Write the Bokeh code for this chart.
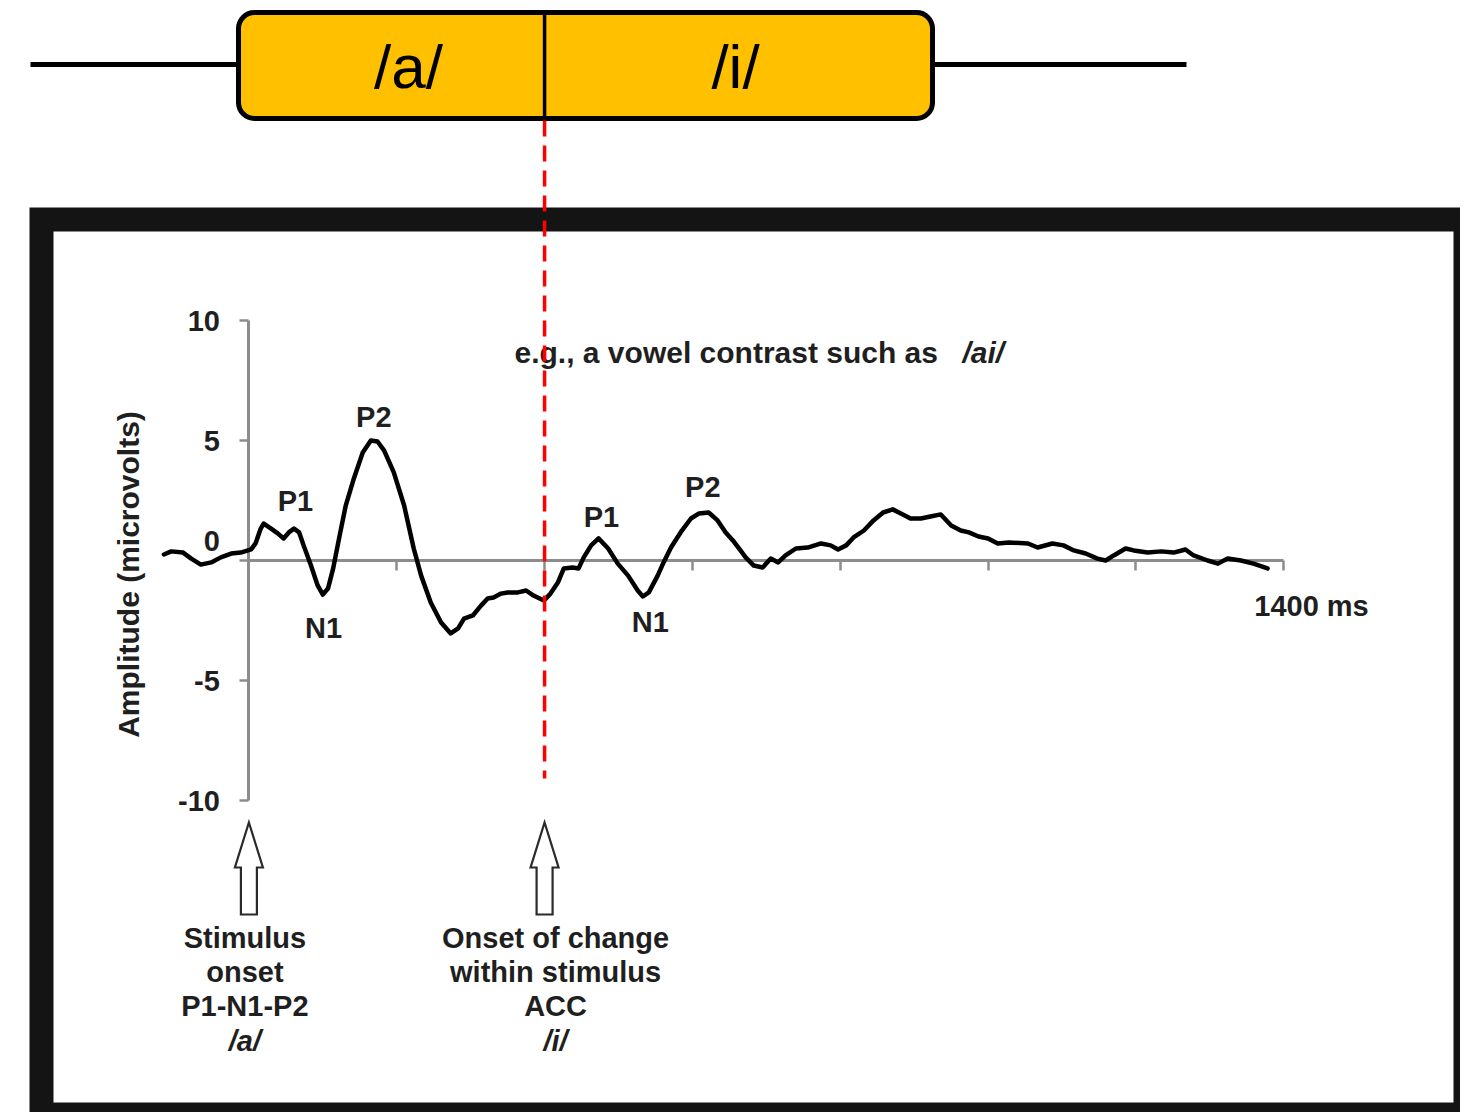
from math import pi
from bokeh.plotting import figure
from bokeh.models import Range1d, LinearAxis, FixedTicker
from bokeh.core.properties import value
from bokeh.embed import file_html
from bokeh.resources import INLINE

# ---------------- data ----------------
time_ms = [-115, -105, -89, -78, -65, -51, -38, -24, -11, 3,
           9, 16, 20, 30, 39, 47, 54, 61, 68, 74,
           84, 93, 100, 107, 114, 122, 131, 142, 154, 165,
           174, 183, 196, 210, 223, 233, 246, 260, 273, 283,
           291, 303, 314, 323, 331, 341, 350, 364, 375, 385,
           399, 408, 418, 426, 438, 446, 453, 463, 473, 486,
           499, 513, 526, 533, 541, 553, 561, 571, 584, 598,
           609, 622, 634, 645, 656, 665, 672, 683, 695, 706,
           716, 726, 740, 756, 774, 787, 797, 808, 818, 832,
           845, 858, 871, 882, 895, 909, 922, 936, 950, 963,
           974, 987, 1000, 1013, 1028, 1054, 1067, 1087, 1102,
           1116, 1132, 1148, 1159, 1170, 1186, 1197, 1216, 1234, 1251,
           1267, 1278, 1297, 1311, 1324, 1342, 1359, 1378]
amplitude_uv = [0.25, 0.38, 0.33, 0.08, -0.17, -0.08, 0.13, 0.29, 0.33, 0.46,
                0.71, 1.33, 1.54, 1.33, 1.13, 0.92, 1.17, 1.33, 1.17, 0.63,
                -0.21, -1.04, -1.42, -1.17, -0.33, 0.92, 2.29, 3.42, 4.5, 5.0,
                4.96, 4.58, 3.67, 2.29, 0.5, -0.63, -1.75, -2.58, -3.04, -2.83,
                -2.42, -2.29, -1.88, -1.58, -1.54, -1.38, -1.33, -1.33, -1.25, -1.46,
                -1.67, -1.38, -0.92, -0.33, -0.29, -0.33, 0.13, 0.63, 0.92, 0.5,
                -0.13, -0.63, -1.25, -1.5, -1.33, -0.63, -0.08, 0.54, 1.17, 1.75,
                1.96, 2.0, 1.67, 1.17, 0.79, 0.42, 0.13, -0.21, -0.29, 0.08,
                -0.08, 0.21, 0.5, 0.54, 0.71, 0.63, 0.46, 0.63, 0.96, 1.25,
                1.67, 2.0, 2.13, 1.96, 1.75, 1.75, 1.83, 1.92, 1.46, 1.25,
                1.17, 1.0, 0.92, 0.71, 0.75, 0.71, 0.54, 0.71, 0.63,
                0.42, 0.29, 0.08, 0.0, 0.21, 0.5, 0.42, 0.33, 0.38, 0.33,
                0.46, 0.21, 0.0, -0.13, 0.08, 0.0, -0.13, -0.33]

peak_names = ["P1", "N1", "P2", "P1", "N1", "P2"]
peak_label_ms = [63, 101, 169, 477, 543, 614]
peak_label_uv = [2.5, -2.83, 6.0, 1.83, -2.58, 3.08]

onset_ms = [0, 400]
vowels = ["/a/", "/i/"]
onset_lines = [["Stimulus", "onset", "P1-N1-P2"], ["Onset of change", "within stimulus", "ACC"]]

y_ticks = [-10, -5, 0, 5, 10]
y_tick_text = {-10: "-10", -5: "-5", 0: "", 5: "5", 10: "10"}
x_ticks = [200, 400, 600, 800, 1000, 1200, 1400]
x_end_label = "1400 ms"
y_title = "Amplitude (microvolts)"
note = "e.g., a vowel contrast such as"
note_vowels = "/ai/"

# ---------------- layout helpers (page pixels -> data) ----------------
W, H = 1460, 1112
OX, OY = 0, 0
X0, SX = 248.4, 0.7392   # page x of 0 ms, px per ms
Y0, SY = 560.0, 24.0     # page y of 0 uV, px per uV


def dx(px):
    return (px - X0) / SX


def dy(py):
    return (Y0 - py) / SY


def wx(px):
    return px / SX


FONT_NAME = "Liberation Sans"
FONT = value(FONT_NAME)
TXT = "#1f1f1f"

p = figure(width=W, height=H,
           x_range=Range1d(dx(OX), dx(OX + W)), y_range=Range1d(dy(OY + H), dy(OY)),
           output_backend="svg", toolbar_location=None,
           x_axis_type=None, y_axis_type=None, min_border=0)
p.outline_line_color = None
p.background_fill_color = "white"
p.border_fill_color = "white"

# black picture frame
p.quad(left=[dx(29)], right=[dx(1500)], top=[dy(207)], bottom=[dy(1150)],
       fill_color="#141414", line_color=None)
p.quad(left=[dx(53)], right=[dx(1453)], top=[dy(231)], bottom=[dy(1102)],
       fill_color="white", line_color=None)

# stimulus timeline with /a/ /i/ box
p.segment(x0=[dx(30), dx(932)], x1=[dx(238), dx(1186)], y0=[dy(64)] * 2, y1=[dy(64)] * 2,
          line_color="black", line_width=5)
p.quad(left=[dx(238)], right=[dx(932)], top=[dy(12)], bottom=[dy(118)],
       fill_color="#FFC000", line_color="black", line_width=5, border_radius=16)
p.segment(x0=[onset_ms[1]], x1=[onset_ms[1]], y0=[dy(12)], y1=[dy(118)],
          line_color="black", line_width=3.5)
p.text(x=[dx(408), dx(735)], y=[dy(66)] * 2, text=vowels,
       text_font=FONT, text_font_size="62px", text_color="black",
       text_align="center", text_baseline="middle")

# axes
axis_gray = "#8c8c8c"
yax = LinearAxis(fixed_location=0, bounds=(-10, 10), ticker=FixedTicker(ticks=y_ticks),
                 axis_line_color=axis_gray, axis_line_width=3,
                 major_tick_line_color=axis_gray, major_tick_line_width=2.5,
                 major_tick_out=9, major_tick_in=0, minor_tick_out=0, minor_tick_in=0,
                 major_label_standoff=20, major_label_text_font=FONT_NAME,
                 major_label_text_font_style="bold", major_label_text_font_size="29px",
                 major_label_text_color=TXT, major_label_overrides=y_tick_text)
p.add_layout(yax, "left")
xax = LinearAxis(fixed_location=0, bounds=(0, x_ticks[-1]), ticker=FixedTicker(ticks=x_ticks),
                 axis_line_color=axis_gray, axis_line_width=3,
                 major_tick_line_color=axis_gray, major_tick_line_width=2.5,
                 major_tick_out=10, major_tick_in=0, minor_tick_out=0, minor_tick_in=0,
                 major_label_overrides={t: "" for t in x_ticks})
p.add_layout(xax, "below")

# "0" tick label sits above the x axis
p.text(x=[0], y=[0], text=["0"], x_offset=-29, y_offset=-20,
       text_font=FONT, text_font_style="bold", text_font_size="29px", text_color=TXT,
       text_align="right", text_baseline="middle")
p.text(x=[dx(1311)], y=[dy(605)], text=[x_end_label],
       text_font=FONT, text_font_style="bold", text_font_size="29px", text_color=TXT,
       text_align="center", text_baseline="middle")
p.text(x=[dx(128)], y=[dy(574)], text=[y_title], angle=pi / 2,
       text_font=FONT, text_font_style="bold", text_font_size="30px", text_color=TXT,
       text_align="center", text_baseline="middle")
p.text(x=[dx(514)], y=[dy(352)], text=[note],
       text_font=FONT, text_font_style="bold", text_font_size="30px", text_color=TXT,
       text_align="left", text_baseline="middle")
p.text(x=[dx(962)], y=[dy(352)], text=[note_vowels],
       text_font=FONT, text_font_style="bold italic", text_font_size="30px", text_color=TXT,
       text_align="left", text_baseline="middle")

# ERP waveform
p.line(time_ms, amplitude_uv, line_color="black", line_width=4.5,
       line_join="round", line_cap="round", level="annotation")

# peak labels
p.text(x=peak_label_ms, y=peak_label_uv, text=peak_names,
       text_font=FONT, text_font_style="bold", text_font_size="29px", text_color=TXT,
       text_align="center", text_baseline="middle")

# onset arrows and captions
for i, t in enumerate(onset_ms):
    hw, sw = wx(14), wx(8)
    tip, base, bot = dy(822), dy(867), dy(914)
    xs = [t, t + hw, t + sw, t + sw, t - sw, t - sw, t - hw]
    ys = [tip, base, base, bot, bot, base, base]
    p.patch(xs, ys, fill_color="white", line_color="#2a2a2a", line_width=2.2, line_join="miter")
    cx = t + wx([-4, 11][i])
    for j, line in enumerate(onset_lines[i]):
        p.text(x=[cx], y=[dy(937 + 34 * j)], text=[line],
               text_font=FONT, text_font_style="bold", text_font_size="29px", text_color=TXT,
               text_align="center", text_baseline="middle")
    p.text(x=[cx], y=[dy(1040)], text=[vowels[i]],
           text_font=FONT, text_font_style="bold italic", text_font_size="29px", text_color=TXT,
           text_align="center", text_baseline="middle")

# red dashed line marking the change onset
p.segment(x0=[onset_ms[1]], x1=[onset_ms[1]], y0=[dy(120)], y1=[dy(778)],
          line_color="#FF0000", line_width=3.5, line_dash="16 9", level="overlay")

open("out.html", "w").write(file_html(p, INLINE))
